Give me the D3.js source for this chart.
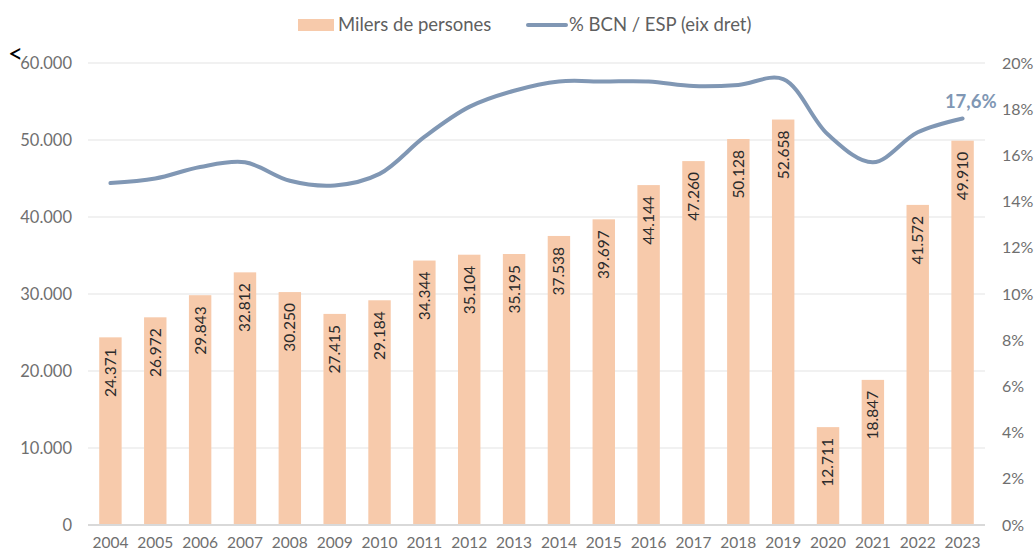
<!DOCTYPE html>
<html>
<head>
<meta charset="utf-8">
<script src="https://cdn.jsdelivr.net/npm/d3@7"></script>
<style>
  body { margin: 0; background: #fff; }
  svg { font-family: Lato, "Open Sans", sans-serif; }
</style>
</head>
<body>
<svg width="1036" height="552"></svg>
<script>
const years = ["2004","2005","2006","2007","2008","2009","2010","2011","2012","2013",
               "2014","2015","2016","2017","2018","2019","2020","2021","2022","2023"];
const persons = [24371, 26972, 29843, 32812, 30250, 27415, 29184, 34344, 35104, 35195,
                 37538, 39697, 44144, 47260, 50128, 52658, 12711, 18847, 41572, 49910];
const sharePct = [14.8, 15.0, 15.5, 15.7, 14.9, 14.7, 15.2, 16.8, 18.1, 18.8,
                  19.2, 19.2, 19.2, 19.0, 19.05, 19.3, 16.9, 15.7, 17.0, 17.6];
const leftTicks = [0, 10000, 20000, 30000, 40000, 50000, 60000];
const rightTicks = [0, 2, 4, 6, 8, 10, 12, 14, 16, 18, 20];

const svg = d3.select("svg");
const plotLeft = 88, plotRight = 985, plotTop = 63, plotBottom = 525;

const fmt = d3.formatLocale({decimal: ",", thousands: ".", grouping: [3], currency: ["", "€"]});
const fmtInt = fmt.format(",d");

const x = d3.scaleBand().domain(years).range([plotLeft, plotRight]).paddingInner(0.5).paddingOuter(0.25);
const y = d3.scaleLinear().domain([0, 60000]).range([plotBottom, plotTop]);
const y2 = d3.scaleLinear().domain([0, 20]).range([plotBottom, plotTop]);

// gridlines
svg.append("g").selectAll("line")
  .data(leftTicks.filter(d => d > 0))
  .enter().append("line")
  .attr("x1", plotLeft).attr("x2", plotRight)
  .attr("y1", d => y(d)).attr("y2", d => y(d))
  .attr("stroke", "#e3e3e3").attr("stroke-width", 1.2);

// bars
svg.append("g").selectAll("rect")
  .data(years)
  .enter().append("rect")
  .attr("x", d => x(d))
  .attr("y", (d, i) => y(persons[i]))
  .attr("width", x.bandwidth())
  .attr("height", (d, i) => plotBottom - y(persons[i]))
  .attr("fill", "#f7caab");

// bar labels
svg.append("g").selectAll("text")
  .data(years)
  .enter().append("text")
  .attr("transform", (d, i) => `translate(${x(d) + x.bandwidth() / 2}, ${y(persons[i]) + 11}) rotate(-90)`)
  .attr("text-anchor", "end")
  .attr("dy", "0.35em")
  .style("font-size", "15.5px")
  .attr("fill", "#2b2b2b")
  .text((d, i) => fmtInt(persons[i]));

// baseline
svg.append("line")
  .attr("x1", plotLeft).attr("x2", plotRight)
  .attr("y1", plotBottom).attr("y2", plotBottom)
  .attr("stroke", "#d9d9d9").attr("stroke-width", 2);

// left axis labels
svg.append("g").selectAll("text")
  .data(leftTicks)
  .enter().append("text")
  .attr("x", 72).attr("y", d => y(d))
  .attr("dy", "0.35em")
  .attr("text-anchor", "end")
  .style("font-size", "16.5px")
  .attr("fill", "#6f6f6f")
  .text(d => fmtInt(d));

// right axis labels
svg.append("g").selectAll("text")
  .data(rightTicks)
  .enter().append("text")
  .attr("x", 1002).attr("y", d => y2(d))
  .attr("dy", "0.35em")
  .style("font-size", "16px")
  .attr("fill", "#6f6f6f")
  .text(d => d + "%");

// year labels
svg.append("g").selectAll("text")
  .data(years)
  .enter().append("text")
  .attr("x", d => x(d) + x.bandwidth() / 2)
  .attr("y", 548)
  .attr("text-anchor", "middle")
  .style("font-size", "15.5px")
  .attr("fill", "#6f6f6f")
  .text(d => d);

// share line
const line = d3.line()
  .x((d, i) => x(years[i]) + x.bandwidth() / 2)
  .y(d => y2(d))
  .curve(d3.curveCatmullRom);

svg.append("path")
  .datum(sharePct)
  .attr("d", line)
  .attr("fill", "none")
  .attr("stroke", "#8097b4")
  .attr("stroke-width", 4)
  .attr("stroke-linecap", "round");

const last = sharePct.length - 1;
svg.append("text")
  .attr("x", x(years[last]) + x.bandwidth() / 2 + 34)
  .attr("y", y2(sharePct[last]) - 10)
  .attr("text-anchor", "end")
  .style("font-size", "18.5px")
  .style("font-weight", "bold")
  .attr("fill", "#8097b4")
  .text(fmt.format(".1f")(sharePct[last]) + "%");

// legend
svg.append("rect")
  .attr("x", 298).attr("y", 19).attr("width", 36).attr("height", 12)
  .attr("fill", "#f7caab");
svg.append("text")
  .attr("x", 338).attr("y", 25).attr("dy", "0.35em")
  .style("font-size", "18.5px").attr("fill", "#5f5f5f")
  .text("Milers de persones");
svg.append("line")
  .attr("x1", 528).attr("x2", 566).attr("y1", 25).attr("y2", 25)
  .attr("stroke", "#8097b4").attr("stroke-width", 4).attr("stroke-linecap", "round");
svg.append("text")
  .attr("x", 569).attr("y", 25).attr("dy", "0.35em")
  .style("font-size", "18.5px").attr("fill", "#5f5f5f")
  .text("% BCN / ESP (eix dret)");

svg.append("text")
  .attr("x", 8).attr("y", 63)
  .style("font-size", "26px").attr("fill", "#000")
  .text("<");
</script>
</body>
</html>
